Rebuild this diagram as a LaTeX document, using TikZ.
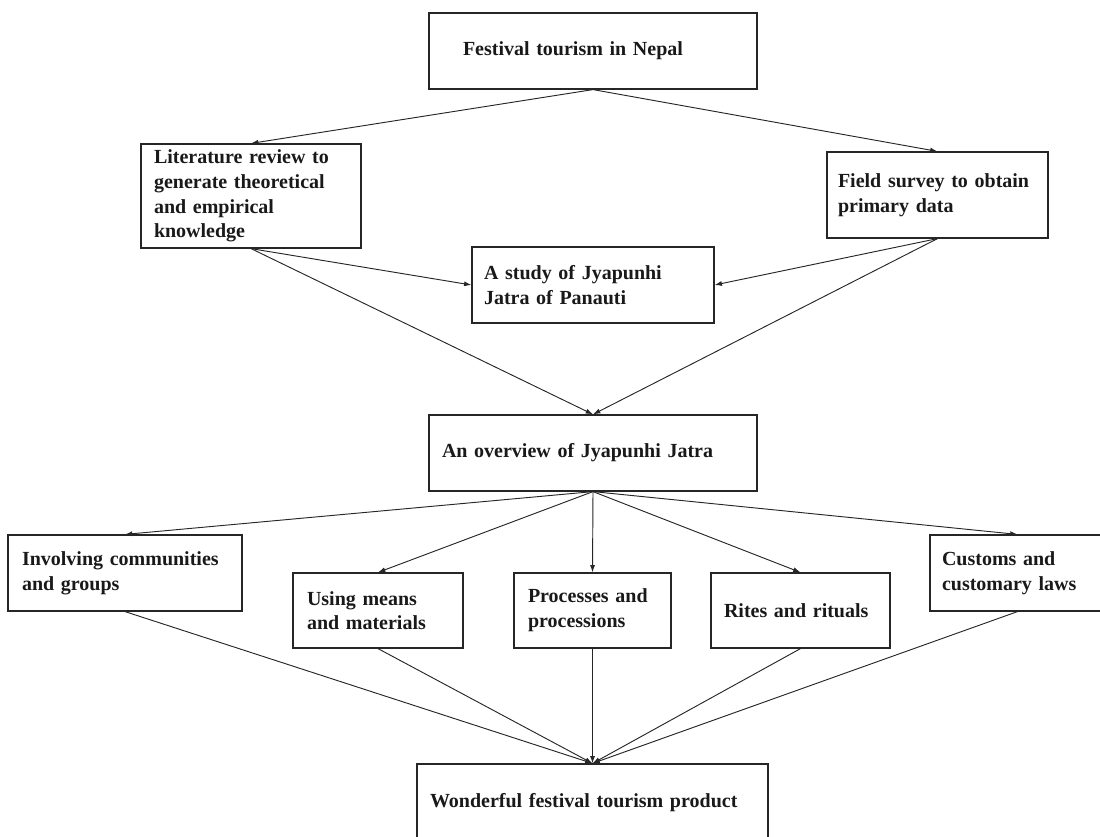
\documentclass[tikz,border=0pt]{standalone}
\usepackage{fontspec}
\setmainfont{Liberation Serif}
\usetikzlibrary{arrows.meta}
\tikzset{
	stage/.style={rectangle, draw=black!85, line width=0.9pt, align=left, inner ysep=0pt,
		font=\fontsize{15}{18.5}\selectfont\bfseries, text=black!90},
	flow/.style={draw=black!85, line width=0.7pt, -{Latex[length=5.5pt,width=3.8pt]}}
}

\begin{document}
\begin{tikzpicture}[x=0.75pt,y=-0.75pt]
			% frame of the picture
			\useasboundingbox (0,0) rectangle (1100,837);
			\clip (0,0) rectangle (1100,837);
			% top boxes
			\node[stage, minimum width=246pt, minimum height=57pt, inner xsep=25.5pt, text width=195pt] (festival) at (593,51) {Festival tourism in Nepal};
			\node[stage, minimum width=165pt, minimum height=78pt, inner xsep=9.75pt, text width=145.5pt] (literature) at (251,196) {Literature review to\\generate theoretical\\and empirical\\knowledge};
			\node[stage, minimum width=165.75pt, minimum height=64.5pt, inner xsep=8.25pt, text width=149.25pt] (survey) at (937.5,195) {Field survey to obtain\\primary data};
			\node[stage, minimum width=181.5pt, minimum height=57pt, inner xsep=9pt, text width=163.5pt] (study) at (593,285) {A study of Jyapunhi\\Jatra of Panauti};
			\node[stage, minimum width=246pt, minimum height=57pt, inner xsep=9.75pt, text width=226.5pt] (overview) at (593,453) {An overview of Jyapunhi Jatra};
			% aspects of the jatra
			\node[stage, minimum width=175.5pt, minimum height=57pt, inner xsep=10.5pt, text width=154.5pt] (communities) at (125,573) {Involving communities\\and groups};
			\node[stage, minimum width=127.5pt, minimum height=56.25pt, inner xsep=10.5pt, text width=106.5pt] (materials) at (378,610.5) {Using means\\and materials};
			\node[stage, minimum width=117.75pt, minimum height=56.25pt, inner xsep=10.5pt, text width=96.75pt] (processes) at (592.5,610.5) {Processes and\\processions};
			\node[stage, minimum width=134.25pt, minimum height=56.25pt, inner xsep=9.75pt, text width=114.75pt] (rites) at (800.5,610.5) {Rites and rituals};
			\node[stage, minimum width=131.25pt, minimum height=57pt, inner xsep=9pt, text width=113.25pt] (customs) at (1017.5,573) {Customs and\\customary laws};
			% result
			\node[stage, minimum width=263.25pt, minimum height=58.5pt, inner xsep=9.75pt, text width=243.75pt] (product) at (592.5,803) {Wonderful festival tourism product};
			% arrows from the topic
			\draw[flow] (festival.south) -- (literature.north);
			\draw[flow] (festival.south) -- (survey.north);
			\draw[flow] (literature.south) -- (study.west);
			\draw[flow] (survey.south) -- (study.east);
			\draw[flow] (literature.south) -- (overview.north);
			\draw[flow] (survey.south) -- (overview.north);
			% arrows to the aspects
			\draw[flow] (overview.south) -- (communities.north);
			\draw[flow] (overview.south) -- (materials.north);
			\draw[flow] (overview.south) -- (processes.north);
			\draw[flow] (overview.south) -- (rites.north);
			\draw[flow] (overview.south) -- (customs.north);
			% arrows to the product
			\draw[flow] (communities.south) -- (product.north);
			\draw[flow] (materials.south) -- (product.north);
			\draw[flow] (processes.south) -- (product.north);
			\draw[flow] (rites.south) -- (product.north);
			\draw[flow] (customs.south) -- (product.north);
		\end{tikzpicture}
\end{document}
